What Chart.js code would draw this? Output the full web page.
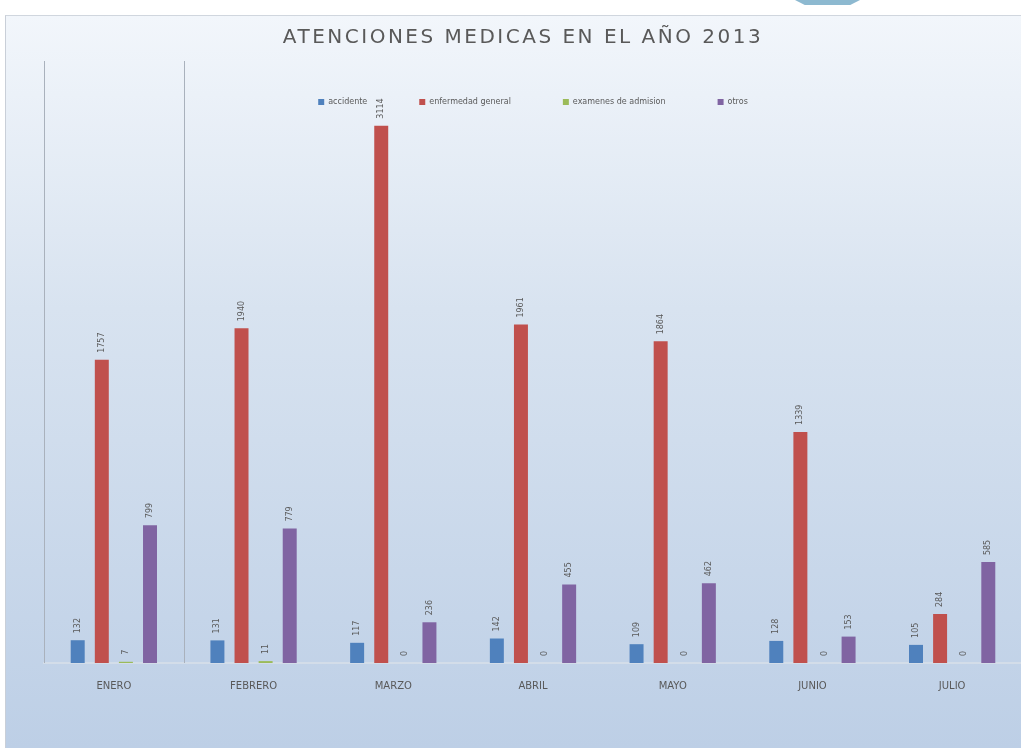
<!DOCTYPE html>
<html lang="es">
<head>
  <meta charset="UTF-8">
  <title>Atenciones medicas 2013</title>
  <script src="https://cdn.jsdelivr.net/npm/chart.js"></script>
  <style>
    body { margin: 0; background: #ffffff; width: 1021px; height: 748px; overflow: hidden; position: relative; font-family: 'DejaVu Sans', Arial, sans-serif; }
    .tab { position: absolute; left: 795px; top: 0; width: 65px; height: 5px; background: #8db9d0; clip-path: polygon(0 0, 100% 0, 85% 100%, 15% 100%); }
    .frame { position: absolute; left: 5px; top: 15px; width: 1016px; height: 733px;
             background: linear-gradient(to bottom, #f2f6fb 0%, #d8e3f0 40%, #bdcfe6 100%);
             border-top: 1px solid #d0d6de; border-left: 1px solid #c9cfd8; box-sizing: border-box; }
    canvas { display: block; }
  </style>
</head>
<body>
<div class="tab"></div>
<div class="frame">
  <canvas id="myChart" width="1016" height="733"></canvas>
</div>
<script>
  const titulo = 'ATENCIONES MEDICAS EN EL AÑO 2013';
  const meses = ['ENERO', 'FEBRERO', 'MARZO', 'ABRIL', 'MAYO', 'JUNIO', 'JULIO'];
  const accidente = [132, 131, 117, 142, 109, 128, 105];
  const enfermedadGeneral = [1757, 1940, 3114, 1961, 1864, 1339, 284];
  const examenesAdmision = [7, 11, 0, 0, 0, 0, 0];
  const otros = [799, 779, 236, 455, 462, 153, 585];

  // titulo con espaciado entre letras (el plugin title no lo permite)
  const tituloEspaciado = {
    id: 'tituloEspaciado',
    afterDraw(chart) {
      const ctx = chart.ctx;
      ctx.save();
      ctx.font = '20px "DejaVu Sans"';
      ctx.letterSpacing = '2.5px';
      ctx.fillStyle = '#595959';
      ctx.textAlign = 'center';
      ctx.textBaseline = 'middle';
      ctx.fillText(titulo, chart.width / 2 + 9, 22);
      ctx.restore();
    }
  };

  // lineas verticales de las dos primeras divisiones, desde arriba de la leyenda
  const lineasDivision = {
    id: 'lineasDivision',
    beforeDatasetsDraw(chart) {
      const x = chart.scales.x;
      const paso = x.getPixelForTick(1) - x.getPixelForTick(0);
      const ctx = chart.ctx;
      ctx.save();
      ctx.strokeStyle = '#a9b1bc';
      ctx.lineWidth = 1;
      [0, 1].forEach(i => {
        const px = Math.round(x.getPixelForTick(i) - paso / 2) + 0.5;
        ctx.beginPath();
        ctx.moveTo(px, chart.legend.top + 15);
        ctx.lineTo(px, chart.chartArea.bottom);
        ctx.stroke();
      });
      ctx.restore();
    }
  };

  // valores rotados encima de cada barra
  const etiquetas = {
    id: 'etiquetas',
    afterDatasetsDraw(chart) {
      const ctx = chart.ctx;
      ctx.save();
      ctx.font = '8px "DejaVu Sans"';
      ctx.fillStyle = '#595959';
      ctx.textAlign = 'left';
      ctx.textBaseline = 'middle';
      chart.data.datasets.forEach((ds, i) => {
        chart.getDatasetMeta(i).data.forEach((bar, j) => {
          ctx.save();
          ctx.translate(bar.x, bar.y - 7);
          ctx.rotate(-Math.PI / 2);
          ctx.fillText(String(ds.data[j]), 0, 0);
          ctx.restore();
        });
      });
      ctx.restore();
    }
  };

  Chart.defaults.font.family = '"DejaVu Sans", Arial, sans-serif';
  Chart.defaults.color = '#595959';

  const ctx = document.getElementById('myChart').getContext('2d');
  new Chart(ctx, {
    type: 'bar',
    data: {
      labels: meses,
      datasets: [
        { label: 'accidente', data: accidente, backgroundColor: '#4f81bd' },
        { label: 'enfermedad general', data: enfermedadGeneral, backgroundColor: '#c0504d' },
        { label: 'examenes de admision', data: examenesAdmision, backgroundColor: '#9bbb59' },
        { label: 'otros', data: otros, backgroundColor: '#8064a2' }
      ]
    },
    options: {
      responsive: false,
      animation: false,
      categoryPercentage: 0.69,
      barPercentage: 0.58,
      layout: { padding: { left: 38, right: 0, top: 30, bottom: 48 } },
      plugins: {
        title: { display: false },
        legend: {
          display: true,
          position: 'top',
          labels: { boxWidth: 6, boxHeight: 6, padding: 52, font: { size: 8 }, color: '#595959' }
        },
        tooltip: { enabled: false }
      },
      scales: {
        x: {
          grid: { display: false },
          border: { color: '#d3dde9', width: 2 },
          ticks: { padding: 9, font: { size: 10 }, color: '#595959' }
        },
        y: {
          display: false,
          min: 0,
          max: 3170
        }
      }
    },
    plugins: [lineasDivision, etiquetas, tituloEspaciado]
  });
</script>
</body>
</html>
